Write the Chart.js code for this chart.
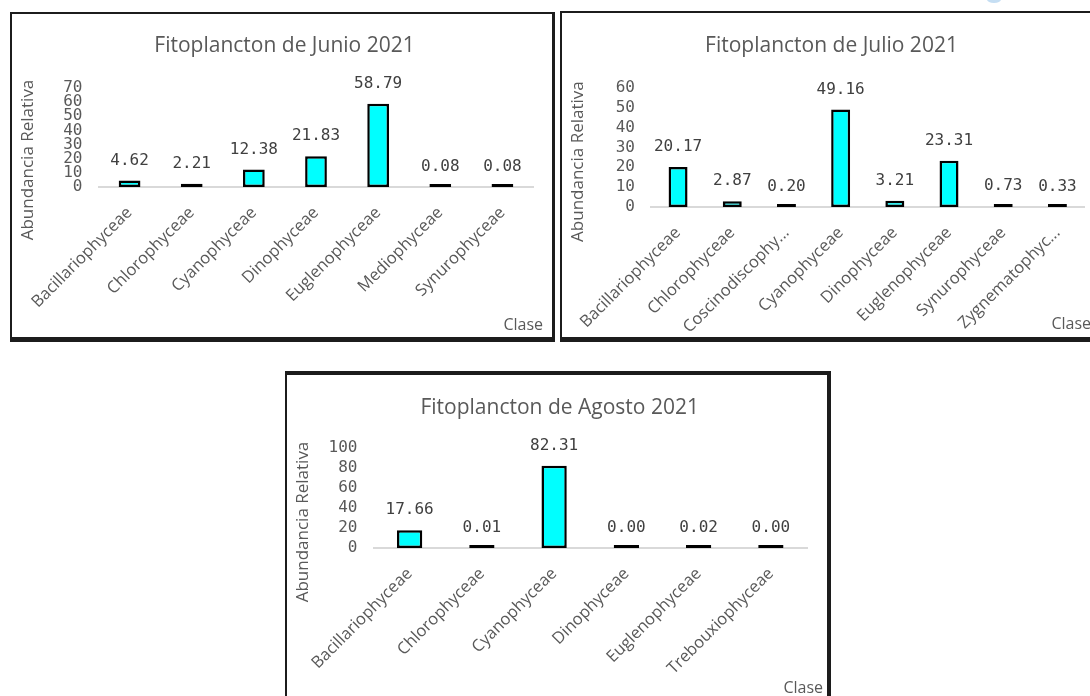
<!DOCTYPE html>
<html>
<head>
<meta charset="utf-8">
<script src="https://cdn.jsdelivr.net/npm/chart.js@4.4.1/dist/chart.umd.min.js"></script>
<style>
  html, body { margin: 0; padding: 0; background: #ffffff; }
  body { position: relative; width: 1090px; height: 696px; overflow: hidden; }
  .frame { position: absolute; box-sizing: border-box; border-style: solid; border-color: #1c1c1c; background: #fff; }
  .plot { position: absolute; }
  .dot { position: absolute; left: 987px; top: -4px; width: 14px; height: 7px; border-radius: 50%; background: #c5def3; }
</style>
</head>
<body>
<div class="dot"></div>
<div class="frame" style="left:10px;top:12px;width:545px;height:330px;border-width:2px 3px 5px 2px;"></div>
<div class="frame" style="left:560px;top:11px;width:540px;height:331px;border-width:2px 0 5px 2px;"></div>
<div class="frame" style="left:285px;top:371px;width:546px;height:340px;border-width:4px 4px 0 2px;"></div>

<div class="plot" style="left:12px;top:14px;width:539px;height:322px;"><canvas id="junio"></canvas></div>
<div class="plot" style="left:562px;top:13px;width:528px;height:324px;"><canvas id="julio"></canvas></div>
<div class="plot" style="left:288px;top:375px;width:538px;height:321px;"><canvas id="agosto"></canvas></div>

<script>
// Abundancia relativa (%) de clases de fitoplancton por mes
const junioClases = ['Bacillariophyceae', 'Chlorophyceae', 'Cyanophyceae', 'Dinophyceae', 'Euglenophyceae', 'Mediophyceae', 'Synurophyceae'];
const junioValores = [4.62, 2.21, 12.38, 21.83, 58.79, 0.08, 0.08];
const junioTicks = [0, 10, 20, 30, 40, 50, 60, 70];

const julioClases = ['Bacillariophyceae', 'Chlorophyceae', 'Coscinodiscophy...', 'Cyanophyceae', 'Dinophyceae', 'Euglenophyceae', 'Synurophyceae', 'Zygnematophyc...'];
const julioValores = [20.17, 2.87, 0.20, 49.16, 3.21, 23.31, 0.73, 0.33];
const julioTicks = [0, 10, 20, 30, 40, 50, 60];

const agostoClases = ['Bacillariophyceae', 'Chlorophyceae', 'Cyanophyceae', 'Dinophyceae', 'Euglenophyceae', 'Trebouxiophyceae'];
const agostoValores = [17.66, 0.01, 82.31, 0.00, 0.02, 0.00];
const agostoTicks = [0, 20, 40, 60, 80, 100];

const GRAY = '#595959';
const MONO = '"DejaVu Sans Mono", monospace';
const SANS = '"Open Sans", sans-serif';

// Title, axis captions and value labels drawn on the chart canvas
const textos = {
  id: 'textos',
  afterDatasetsDraw(chart, args, o) {
    const ctx = chart.ctx;
    const y = chart.scales.y;
    const meta = chart.getDatasetMeta(0);
    const data = chart.data.datasets[0].data;
    ctx.save();
    ctx.textAlign = 'center';
    ctx.textBaseline = 'middle';
    ctx.fillStyle = '#404040';
    ctx.font = '16px ' + MONO;
    meta.data.forEach((bar, i) => {
      ctx.fillText(data[i].toFixed(2), bar.x, y.getPixelForValue(data[i]) - 20);
    });
    ctx.fillStyle = GRAY;
    ctx.font = '21px ' + SANS;
    ctx.fillText(o.titulo, o.tituloX, o.tituloY);
    ctx.font = '16px ' + SANS;
    ctx.textAlign = 'right';
    ctx.fillText('Clase', o.claseX, o.claseY);
    ctx.translate(o.ejeYX, o.ejeYY);
    ctx.rotate(-Math.PI / 2);
    ctx.textAlign = 'center';
    ctx.font = '17px ' + SANS;
    ctx.fillText('Abundancia Relativa', 0, 0);
    ctx.restore();
  }
};

function grafico(id, clases, valores, ticks, g) {
  new Chart(document.getElementById(id), {
    type: 'bar',
    data: {
      labels: clases,
      datasets: [{
        data: valores,
        backgroundColor: '#00ffff',
        borderColor: '#000000',
        borderWidth: 2.5,
        borderSkipped: false,
        minBarLength: 3,
        categoryPercentage: 1,
        barPercentage: 0.35
      }]
    },
    options: {
      responsive: true,
      maintainAspectRatio: false,
      animation: false,
      layout: { padding: { top: g.top, right: g.right, bottom: 0, left: 0 } },
      plugins: {
        legend: { display: false },
        tooltip: { enabled: false },
        textos: g.textos
      },
      scales: {
        x: {
          grid: { display: false, drawTicks: false },
          border: { color: '#d9d9d9', width: 2 },
          ticks: { minRotation: 45, maxRotation: 45, autoSkip: false, padding: g.xPad, color: GRAY, font: { family: SANS, size: 16.5 } },
          afterFit: s => { s.height = g.xAlto; }
        },
        y: {
          min: ticks[0],
          max: ticks[ticks.length - 1],
          afterBuildTicks: s => { s.ticks = ticks.map(v => ({ value: v })); },
          grid: { display: false, drawTicks: false },
          border: { display: false },
          ticks: { autoSkip: false, padding: 16, color: GRAY, font: { family: MONO, size: 16 } },
          afterFit: s => { s.width = g.yAncho; }
        }
      }
    },
    plugins: [textos]
  });
}

grafico('junio', junioClases, junioValores, junioTicks, {
  top: 74, right: 17.5, yAncho: 86.5, xAlto: 149, xPad: 16,
  textos: { titulo: 'Fitoplancton de Junio 2021', tituloX: 272.5, tituloY: 32, claseX: 531, claseY: 311, ejeYX: 16.5, ejeYY: 146 }
});
grafico('julio', julioClases, julioValores, julioTicks, {
  top: 75, right: 5.5, yAncho: 81.5, xAlto: 130, xPad: 16,
  textos: { titulo: 'Fitoplancton de Julio 2021', tituloX: 269.5, tituloY: 33.5, claseX: 529, claseY: 311, ejeYX: 16, ejeYY: 148.6 }
});
grafico('agosto', agostoClases, agostoValores, agostoTicks, {
  top: 73, right: 19, yAncho: 85.5, xAlto: 148, xPad: 16,
  textos: { titulo: 'Fitoplancton de Agosto 2021', tituloX: 271.7, tituloY: 32.7, claseX: 535, claseY: 313, ejeYX: 15, ejeYY: 147 }
});
</script>
</body>
</html>
